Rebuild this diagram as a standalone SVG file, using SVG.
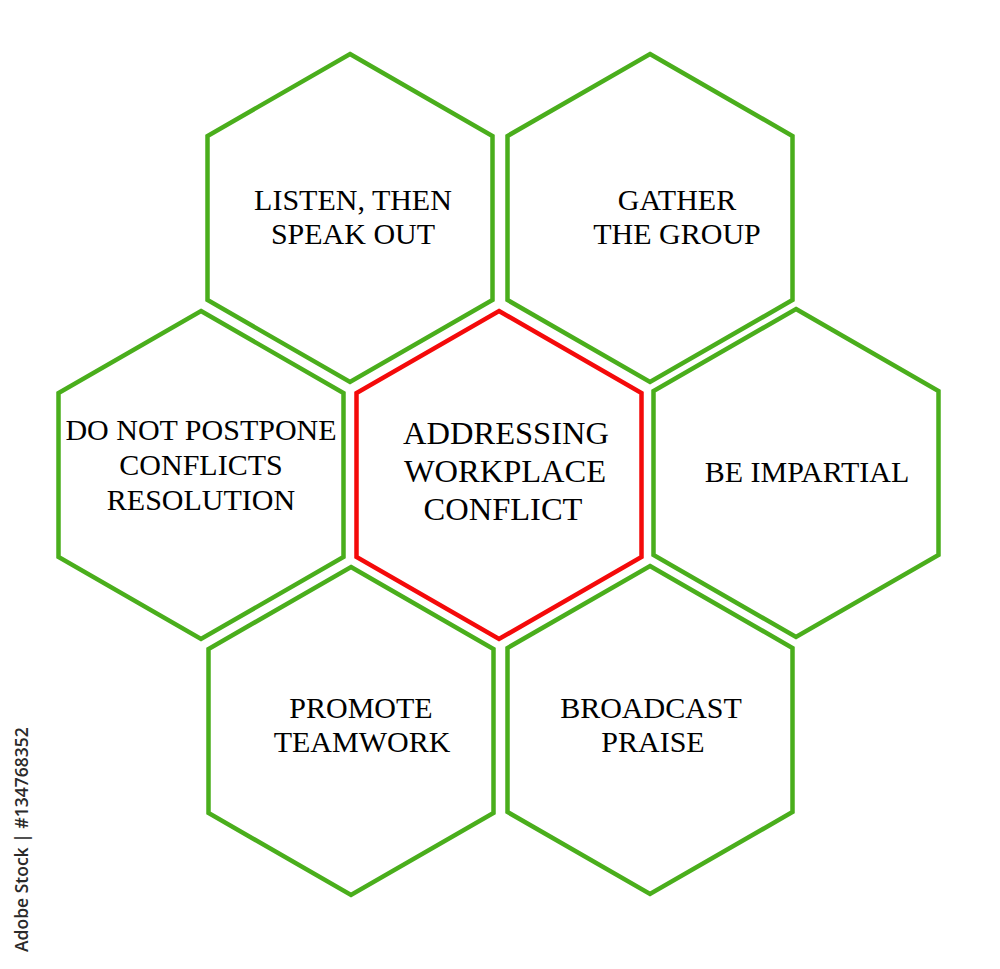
<svg xmlns="http://www.w3.org/2000/svg" xmlns:xlink="http://www.w3.org/1999/xlink" width="1000" height="969" viewBox="0 0 1000 969">
<style>
.hex{fill:#ffffff;stroke-width:4.5;stroke-linejoin:miter}
.g{stroke:#4aae1c}
.r{stroke:#f40a0a}
.t{font-family:"Liberation Serif","Times New Roman",serif;font-size:30px;fill:#000;text-anchor:middle}
.tc{font-size:32.5px}
.wm{font-family:"Open Sans","DejaVu Sans",sans-serif;font-size:17.5px;font-weight:600;fill:#2a2a2a}
</style>
<defs>
<polygon id="hexshape" points="0,-164 142.5,-82 142.5,82 0,164 -142.5,82 -142.5,-82"/>
</defs>
<rect width="1000" height="969" fill="#ffffff"/>
<g id="connectors"></g>
<g id="node-listen">
<use xlink:href="#hexshape" href="#hexshape" class="hex g" x="350" y="218"/>
<text class="t" x="353" y="210">LISTEN, THEN</text>
<text class="t" x="353" y="244">SPEAK OUT</text>
</g>
<g id="node-gather">
<use xlink:href="#hexshape" href="#hexshape" class="hex g" x="650" y="218"/>
<text class="t" x="677" y="210">GATHER</text>
<text class="t" x="677" y="244">THE GROUP</text>
</g>
<g id="node-postpone">
<use xlink:href="#hexshape" href="#hexshape" class="hex g" x="201" y="475"/>
<text class="t" x="201" y="440">DO NOT POSTPONE</text>
<text class="t" x="201" y="475">CONFLICTS</text>
<text class="t" x="201" y="510">RESOLUTION</text>
</g>
<g id="node-center">
<use xlink:href="#hexshape" href="#hexshape" class="hex r" x="499" y="475"/>
<text class="t tc" x="506" y="444">ADDRESSING</text>
<text class="t tc" x="505" y="482">WORKPLACE</text>
<text class="t tc" x="503" y="520">CONFLICT</text>
</g>
<g id="node-impartial">
<use xlink:href="#hexshape" href="#hexshape" class="hex g" x="796" y="473"/>
<text class="t" x="807" y="482">BE IMPARTIAL</text>
</g>
<g id="node-teamwork">
<use xlink:href="#hexshape" href="#hexshape" class="hex g" x="351" y="731"/>
<text class="t" x="361" y="718">PROMOTE</text>
<text class="t" x="362" y="752">TEAMWORK</text>
</g>
<g id="node-praise">
<use xlink:href="#hexshape" href="#hexshape" class="hex g" x="650" y="730"/>
<text class="t" x="651" y="718">BROADCAST</text>
<text class="t" x="653" y="752">PRAISE</text>
</g>
<text class="wm" transform="translate(28,952) rotate(-90)">Adobe Stock | #134768352</text>
</svg>
